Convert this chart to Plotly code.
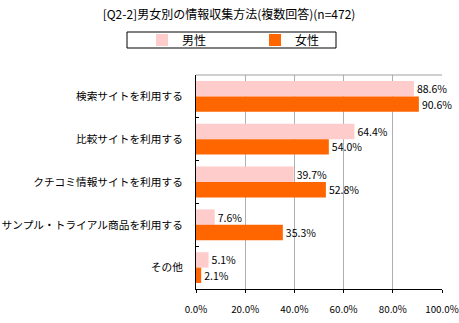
import plotly.graph_objects as go

# Survey: how people gather information, split by gender (multiple answers, n=472)
categories = [
    "検索サイトを利用する",
    "比較サイトを利用する",
    "クチコミ情報サイトを利用する",
    "サンプル・トライアル商品を利用する",
    "その他",
]
male = [88.6, 64.4, 39.7, 7.6, 5.1]
female = [90.6, 54.0, 52.8, 35.3, 2.1]
x_ticks = [0, 20, 40, 60, 80, 100]

FONT = "Noto Sans CJK JP"

fig = go.Figure()
fig.add_trace(go.Bar(
    name="男性", y=categories, x=male, orientation="h",
    marker=dict(color="#FFCCCC", line=dict(width=0)),
    text=[f"{v:.1f}%" for v in male], textposition="outside",
    textfont=dict(size=10.5, color="#000000"), cliponaxis=False,
))
fig.add_trace(go.Bar(
    name="女性", y=categories, x=female, orientation="h",
    marker=dict(color="#FF6600", line=dict(width=0)),
    text=[f"{v:.1f}%" for v in female], textposition="outside",
    textfont=dict(size=10.5, color="#000000"), cliponaxis=False,
))

# thin grey frame line along the top of the plot area
fig.add_shape(type="line", xref="x", yref="paper", x0=0, x1=100, y0=1, y1=1,
              line=dict(color="#A0A0A0", width=1))

# frame around the legend
fig.add_shape(type="rect", xref="paper", yref="paper",
              x0=(127 - 196) / 246, x1=(336 - 196) / 246,
              y0=(289 - 48) / 214, y1=(289 - 32) / 214,
              line=dict(color="#000000", width=1), fillcolor="rgba(0,0,0,0)")

fig.update_layout(
    width=459, height=323,
    margin=dict(l=196, r=17, t=75, b=34, autoexpand=False),
    paper_bgcolor="white", plot_bgcolor="white",
    font=dict(family=FONT, size=11, color="#000000"),
    barmode="group", bargap=0.28, bargroupgap=0,
    title=dict(text="[Q2-2]男女別の情報収集方法(複数回答)(n=472)",
               x=229 / 459, xanchor="center", xref="container",
               y=1 - 15 / 323, yanchor="middle",
               font=dict(size=12, family=FONT)),
    legend=dict(orientation="h", xref="container", yref="container",
                x=142 / 459, xanchor="left", y=1 - 40 / 323, yanchor="middle",
                borderwidth=0, bgcolor="rgba(0,0,0,0)",
                entrywidth=68, itemwidth=30,
                font=dict(size=12, family=FONT), tracegroupgap=0),
    showlegend=True,
)
fig.update_xaxes(
    range=[0, 100], tickvals=x_ticks, ticktext=[f"{v:.1f}%" for v in x_ticks],
    tickfont=dict(size=9.8, family=FONT),
    showgrid=True, gridcolor="#B0B0B0", gridwidth=1,
    showline=True, linecolor="#000000", linewidth=1,
    ticks="outside", ticklen=3, tickcolor="#000000",
    ticklabelstandoff=8, ticklabeloverflow="allow",
    zeroline=False, automargin=False,
)
fig.update_yaxes(
    autorange="reversed", showline=True, linecolor="#000000", linewidth=1,
    ticks="inside", ticklen=3, tickcolor="#000000", tickson="boundaries",
    ticklabelstandoff=10, showgrid=False, automargin=False,
    tickfont=dict(size=10.7, family=FONT),
)

fig.write_html("out.html")
